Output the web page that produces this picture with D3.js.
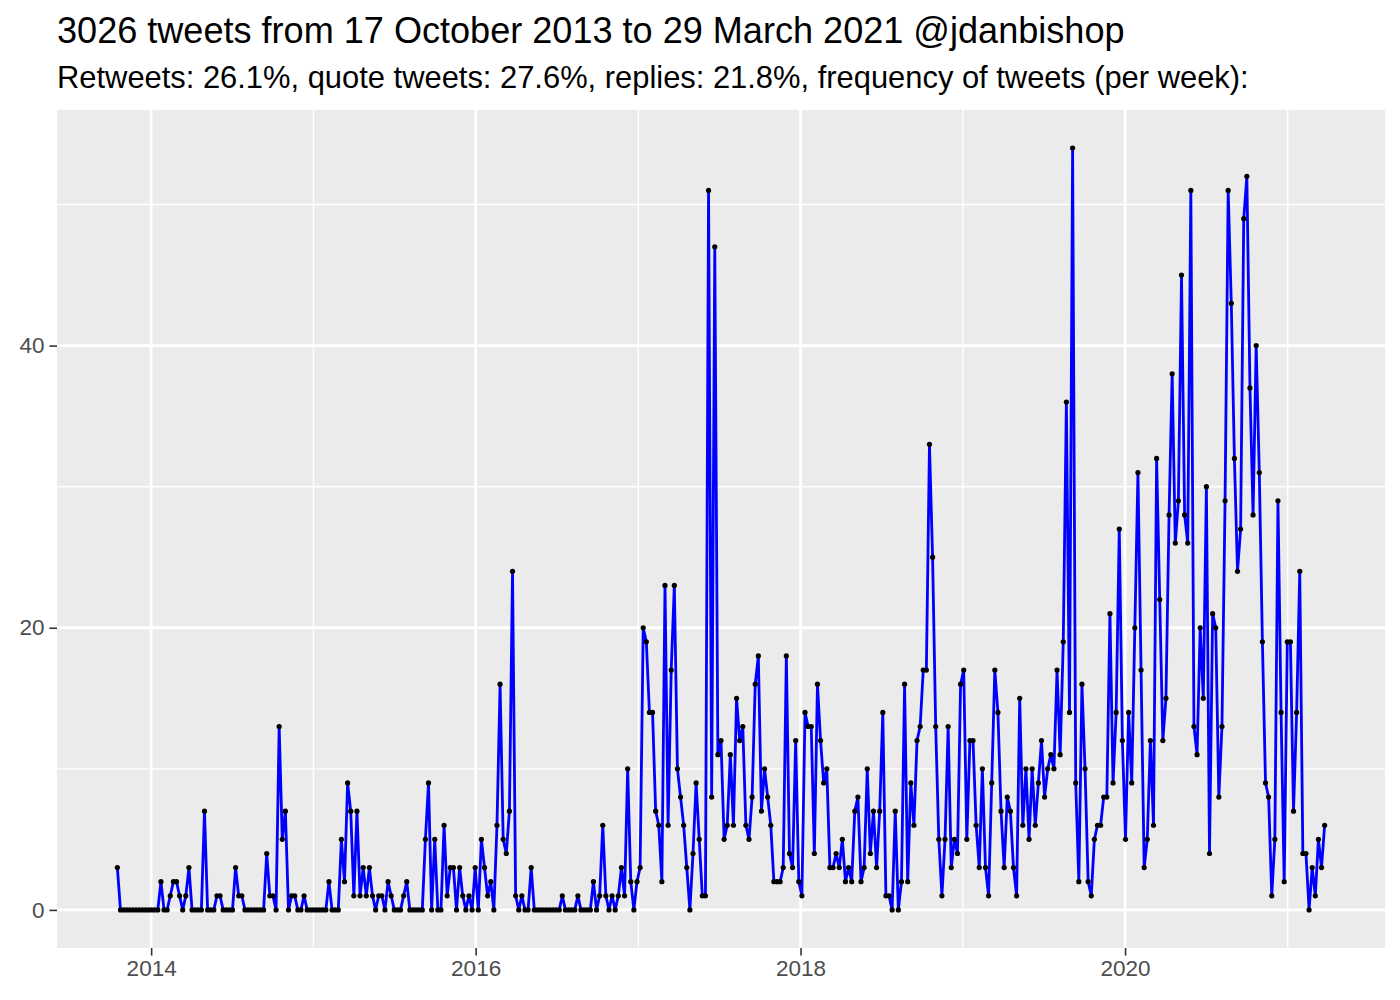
<!DOCTYPE html>
<html>
<head>
<meta charset="utf-8">
<script src="https://cdn.jsdelivr.net/npm/d3@7"></script>
<style>
  body { margin: 0; background: #fff; }
  text { font-family: "Liberation Sans", Arial, sans-serif; }
</style>
</head>
<body>
<div id="chart"></div>
<script>

// chart texts
var title_text = "3026 tweets from 17 October 2013 to 29 March 2021 @jdanbishop"
var subtitle_text = "Retweets: 26.1%, quote tweets: 27.6%, replies: 21.8%, frequency of tweets (per week):"

// one value per week, starting at first_week
var first_week = "2013-10-17"
var weekly_counts = [
  3, 0, 0, 0, 0, 0, 0, 0, 0, 0, 0, 0, 0, 0, 2, 0, 0, 1, 2, 2,
  1, 0, 1, 3, 0, 0, 0, 0, 7, 0, 0, 0, 1, 1, 0, 0, 0, 0, 3, 1,
  1, 0, 0, 0, 0, 0, 0, 0, 4, 1, 1, 0, 13, 5, 7, 0, 1, 1, 0, 0,
  1, 0, 0, 0, 0, 0, 0, 0, 2, 0, 0, 0, 5, 2, 9, 7, 1, 7, 1, 3,
  1, 3, 1, 0, 1, 1, 0, 2, 1, 0, 0, 0, 1, 2, 0, 0, 0, 0, 0, 5,
  9, 0, 5, 0, 0, 6, 1, 3, 3, 0, 3, 1, 0, 1, 0, 3, 0, 5, 3, 1,
  2, 0, 6, 16, 5, 4, 7, 24, 1, 0, 1, 0, 0, 3, 0, 0, 0, 0, 0, 0,
  0, 0, 0, 1, 0, 0, 0, 0, 1, 0, 0, 0, 0, 2, 0, 1, 6, 1, 0, 1,
  0, 1, 3, 1, 10, 2, 0, 2, 3, 20, 19, 14, 14, 7, 6, 2, 23, 6, 17, 23,
  10, 8, 6, 3, 0, 4, 9, 5, 1, 1, 51, 8, 47, 11, 12, 5, 6, 11, 6, 15,
  12, 13, 6, 5, 8, 16, 18, 7, 10, 8, 6, 2, 2, 2, 3, 18, 4, 3, 12, 2,
  1, 14, 13, 13, 4, 16, 12, 9, 10, 3, 3, 4, 3, 5, 2, 3, 2, 7, 8, 2,
  3, 10, 4, 7, 3, 7, 14, 1, 1, 0, 7, 0, 2, 16, 2, 9, 6, 12, 13, 17,
  17, 33, 25, 13, 5, 1, 5, 13, 3, 5, 4, 16, 17, 5, 12, 12, 6, 3, 10, 3,
  1, 9, 17, 14, 7, 3, 8, 7, 3, 1, 15, 6, 10, 5, 10, 6, 9, 12, 8, 10,
  11, 10, 17, 11, 19, 36, 14, 54, 9, 2, 16, 10, 2, 1, 5, 6, 6, 8, 8, 21,
  9, 14, 27, 12, 5, 14, 9, 20, 31, 17, 3, 5, 12, 6, 32, 22, 12, 15, 28, 38,
  26, 29, 45, 28, 26, 51, 13, 11, 20, 15, 30, 4, 21, 20, 8, 13, 29, 51, 43, 32,
  24, 27, 49, 52, 37, 28, 40, 31, 19, 9, 8, 1, 5, 29, 14, 2, 19, 19, 7, 14,
  24, 4, 4, 0, 3, 1, 5, 3, 6
]

// axis breaks
var y_major = [0, 20, 40]
var y_minor = [10, 30, 50]
var x_major = ["2014-01-01", "2016-01-01", "2018-01-01", "2020-01-01"]
var x_minor = ["2015-01-01", "2017-01-01", "2019-01-01", "2021-01-01"]

var width = 1400, height = 1000
var margin = { top: 110, left: 57, bottom: 52, right: 15 }

var parse = d3.utcParse("%Y-%m-%d")
var start = parse(first_week)

var points = weekly_counts.map(function (v, i) {
  return { date: d3.utcDay.offset(start, 7 * i), n: v }
})

var svg = d3.select("#chart")
  .append("svg")
  .attr("width", width)
  .attr("height", height)

svg.append("rect").attr("width", width).attr("height", height).attr("fill", "#fff")

// ggplot-like 5% expansion
var dext = d3.extent(points, function (d) { return d.date })
var dpad = (dext[1] - dext[0]) * 0.05
var yext = d3.extent(points, function (d) { return d.n })
var ypad = (yext[1] - yext[0]) * 0.05

var xScale = d3.scaleUtc()
  .domain([new Date(+dext[0] - dpad), new Date(+dext[1] + dpad)])
  .range([margin.left, width - margin.right])
var yScale = d3.scaleLinear()
  .domain([yext[0] - ypad, yext[1] + ypad])
  .range([height - margin.bottom, margin.top])

// panel
svg.append("rect")
  .attr("x", margin.left)
  .attr("y", margin.top)
  .attr("width", width - margin.left - margin.right)
  .attr("height", height - margin.top - margin.bottom)
  .attr("fill", "#EBEBEB")

var grid = svg.append("g")
grid.selectAll(".ymin").data(y_minor).enter().append("line")
  .attr("x1", margin.left).attr("x2", width - margin.right)
  .attr("y1", function (d) { return yScale(d) }).attr("y2", function (d) { return yScale(d) })
  .attr("stroke", "#fff").attr("stroke-width", 1.4)
grid.selectAll(".xmin").data(x_minor).enter().append("line")
  .attr("y1", margin.top).attr("y2", height - margin.bottom)
  .attr("x1", function (d) { return xScale(parse(d)) }).attr("x2", function (d) { return xScale(parse(d)) })
  .attr("stroke", "#fff").attr("stroke-width", 1.4)
grid.selectAll(".ymaj").data(y_major).enter().append("line")
  .attr("x1", margin.left).attr("x2", width - margin.right)
  .attr("y1", function (d) { return yScale(d) }).attr("y2", function (d) { return yScale(d) })
  .attr("stroke", "#fff").attr("stroke-width", 2.8)
grid.selectAll(".xmaj").data(x_major).enter().append("line")
  .attr("y1", margin.top).attr("y2", height - margin.bottom)
  .attr("x1", function (d) { return xScale(parse(d)) }).attr("x2", function (d) { return xScale(parse(d)) })
  .attr("stroke", "#fff").attr("stroke-width", 2.8)

// the series
var line = d3.line()
  .x(function (d) { return xScale(d.date) })
  .y(function (d) { return yScale(d.n) })

svg.append("path")
  .datum(points)
  .attr("d", line)
  .attr("fill", "none")
  .attr("stroke", "#0000FF")
  .attr("stroke-width", 2.8)
  .attr("stroke-linejoin", "round")

svg.append("g")
  .selectAll("circle")
  .data(points)
  .enter()
  .append("circle")
  .attr("cx", function (d) { return xScale(d.date) })
  .attr("cy", function (d) { return yScale(d.n) })
  .attr("r", 2.6)
  .attr("fill", "#000")

// axes
var xAxis = d3.axisBottom(xScale)
  .tickValues(x_major.map(parse))
  .tickFormat(d3.utcFormat("%Y"))
  .tickSize(7.6)
  .tickPadding(4)
var yAxis = d3.axisLeft(yScale)
  .tickValues(y_major)
  .tickSize(7.6)
  .tickPadding(5)

var gx = svg.append("g")
  .attr("transform", "translate(0," + (height - margin.bottom) + ")")
  .call(xAxis)
var gy = svg.append("g")
  .attr("transform", "translate(" + margin.left + ",0)")
  .call(yAxis)

;[gx, gy].forEach(function (g) {
  g.select(".domain").remove()
  g.selectAll(".tick line").attr("stroke", "#333333").attr("stroke-width", 1.6)
  g.selectAll(".tick text")
    .attr("fill", "#4D4D4D")
    .attr("font-size", "22.5px")
    .attr("font-family", "Liberation Sans, Arial, sans-serif")
})

// titles
svg.append("text")
  .attr("x", margin.left)
  .attr("y", 43)
  .attr("font-size", "36.1px")
  .attr("fill", "#000")
  .text(title_text)

svg.append("text")
  .attr("x", margin.left)
  .attr("y", 88)
  .attr("font-size", "30.9px")
  .attr("fill", "#000")
  .text(subtitle_text)

</script>
</body>
</html>
